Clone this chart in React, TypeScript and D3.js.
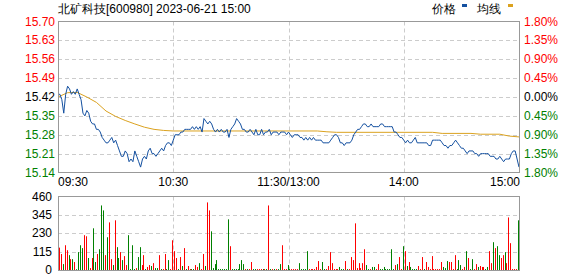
import React from 'react';
import * as d3 from 'd3';

const TITLE = '北矿科技[600980] 2023-06-21 15:00';
const LEGEND = ['价格', '均线'];
const PREV_CLOSE = 15.42;
const priceTicks = [15.7, 15.63, 15.56, 15.49, 15.42, 15.35, 15.28, 15.21, 15.14];
const pctTicks = ['1.80%', '1.35%', '0.90%', '0.45%', '0.00%', '0.45%', '0.90%', '1.35%', '1.80%'];
const volTicks = [460, 345, 230, 115, 0];
const timeLabels = ['09:30', '10:30', '11:30/13:00', '14:00', '15:00'];
const timeLabelMinutes = [0, 60, 120, 180, 240];

// minute 0..120 (09:30-11:30)
const priceAM = [
  15.43, 15.43, 15.41, 15.36, 15.43, 15.46, 15.45, 15.43, 15.44, 15.43,
  15.45, 15.43, 15.41, 15.36, 15.35, 15.37, 15.36, 15.33, 15.32, 15.32,
  15.30, 15.30, 15.29, 15.27, 15.26, 15.25, 15.25, 15.26, 15.27, 15.25,
  15.26, 15.24, 15.22, 15.20, 15.20, 15.22, 15.21, 15.18, 15.19, 15.18,
  15.22, 15.20, 15.18, 15.16, 15.19, 15.20, 15.19, 15.22, 15.23, 15.21,
  15.21, 15.20, 15.21, 15.22, 15.23, 15.22, 15.24, 15.25, 15.25, 15.24,
  15.26, 15.28, 15.28, 15.28, 15.29, 15.29, 15.30, 15.30, 15.30, 15.30,
  15.31, 15.30, 15.31, 15.30, 15.31, 15.29, 15.34, 15.33, 15.32, 15.33,
  15.32, 15.30, 15.29, 15.30, 15.29, 15.30, 15.29, 15.29, 15.30, 15.27,
  15.30, 15.31, 15.32, 15.34, 15.33, 15.32, 15.30, 15.30, 15.29, 15.29,
  15.30, 15.29, 15.28, 15.30, 15.28, 15.28, 15.30, 15.28, 15.29, 15.29,
  15.30, 15.28, 15.29, 15.29, 15.29, 15.28, 15.29, 15.29, 15.29, 15.28,
  15.29,
];
// minute 121..240 (13:01-15:00)
const pricePM = [
  15.28, 15.27, 15.28, 15.28, 15.28, 15.27, 15.27, 15.26, 15.27, 15.26,
  15.27, 15.26, 15.27, 15.26, 15.26, 15.26, 15.26, 15.25, 15.25, 15.25,
  15.25, 15.26, 15.27, 15.28, 15.28, 15.27, 15.25, 15.25, 15.24, 15.25,
  15.25, 15.25, 15.26, 15.28, 15.29, 15.30, 15.30, 15.31, 15.32, 15.32,
  15.31, 15.31, 15.32, 15.31, 15.31, 15.31, 15.31, 15.32, 15.32, 15.31,
  15.31, 15.31, 15.31, 15.31, 15.29, 15.29, 15.28, 15.27, 15.27, 15.26,
  15.25, 15.26, 15.25, 15.25, 15.26, 15.27, 15.25, 15.25, 15.25, 15.25,
  15.25, 15.25, 15.24, 15.24, 15.26, 15.26, 15.26, 15.26, 15.26, 15.25,
  15.24, 15.24, 15.23, 15.24, 15.24, 15.25, 15.26, 15.25, 15.24, 15.23,
  15.23, 15.22, 15.21, 15.22, 15.22, 15.22, 15.21, 15.21, 15.20, 15.21,
  15.21, 15.21, 15.21, 15.21, 15.20, 15.20, 15.20, 15.19, 15.19, 15.20,
  15.19, 15.18, 15.19, 15.19, 15.19, 15.21, 15.22, 15.22, 15.19, 15.16,
];

const avgMinutes = [
  0, 5, 10, 15, 20, 25, 30, 35, 40, 45, 50, 55, 60, 135, 140, 145, 195, 200, 215, 220, 230, 235, 240,
];
const avgValues = [
  15.42, 15.436, 15.437, 15.42, 15.4, 15.368, 15.348, 15.333, 15.32, 15.308, 15.3, 15.296, 15.294,
  15.294, 15.291, 15.289, 15.289, 15.285, 15.285, 15.282, 15.282, 15.275, 15.272,
];

// minute 1..240
const volumes = [
  140, 100, 37, 155, 124, 93, 68, 68, 50, 5,
  112, 155, 137, 218, 211, 75, 12, 75, 261, 50,
  100, 130, 404, 373, 93, 205, 298, 68, 31, 311,
  143, 75, 112, 62, 87, 31, 218, 6, 155, 6,
  12, 81, 143, 31, 93, 6, 19, 31, 25, 43,
  12, 12, 93, 6, 6, 100, 6, 62, 6, 186,
  118, 75, 6, 81, 25, 137, 6, 25, 6, 6,
  6, 31, 19, 43, 6, 100, 25, 423, 373, 242,
  12, 37, 62, 6, 6, 6, 6, 6, 317, 149,
  6, 6, 6, 6, 37, 62, 37, 6, 6, 6,
  50, 6, 6, 6, 6, 6, 6, 6, 6, 404,
  6, 6, 6, 6, 6, 37, 155, 6, 6, 31,
  6, 6, 6, 6, 6, 43, 6, 6, 6, 118,
  6, 6, 6, 6, 19, 56, 6, 50, 6, 6,
  25, 112, 43, 6, 6, 6, 19, 6, 6, 56,
  6, 6, 81, 62, 292, 12, 43, 12, 43, 130,
  31, 6, 6, 19, 19, 6, 37, 6, 6, 19,
  6, 6, 6, 130, 6, 31, 37, 81, 6, 149,
  118, 25, 50, 19, 6, 6, 6, 25, 6, 81,
  6, 50, 19, 6, 87, 6, 6, 6, 6, 50,
  19, 12, 56, 50, 50, 6, 93, 6, 62, 31,
  6, 19, 118, 75, 6, 68, 6, 37, 19, 25,
  19, 19, 6, 19, 118, 43, 174, 137, 149, 93,
  75, 93, 112, 43, 329, 168, 6, 6, 6, 311,
];
// R = up minute, G = down minute
const volumeSides = (
  'RRGRRGRGRG' + 'GGGRRGRRGG' + 'RGGGRGRRGR' + 'GGRGRRGGGG' +
  'RGGRRGRRGR' + 'GGRGRRGGRR' + 'RRGRGRGRRG' + 'GRRGRRGRRG' +
  'GGGGGGGGGR' + 'GGGGGGGRGR' + 'RGGRRRGRGR' + 'GRGRGGRRRG' +
  'GRRRRGGGGG' + 'RRRRRRRGGR' + 'RRRRRRGGGR' + 'GRRRRRRRRR' +
  'GGRGGRRGGG' + 'GGGGGRGRRG' + 'RGRGGGGRRR' + 'GRRRRRRRRR' +
  'GGGRRRRGGG' + 'RRGRGGRRGR' + 'RRGGRRGRGG' + 'RRGRRRRRRG'
).split('');

const W = 578;
const H = 276;
const L = 58;
const R = 519;
const PT = 21.5;
const PB = 172.5;
const VT = 196.5;
const VB = 270.5;
const FONT = 'Liberation Sans, Arial, sans-serif';
const RED = '#ff0000';
const GREEN = '#008000';
const BLUE = '#1450a0';
const GOLD = '#dba21f';
const GRID = '#cccccc';
const BORDER = '#999999';

export default function App() {
  const x = d3.scaleLinear().domain([0, 240]).range([L, R]);
  const yp = d3.scaleLinear().domain([15.14, 15.7]).range([PB, PT]);
  const yv = d3.scaleLinear().domain([0, 460]).range([VB - 0.5, VT]);

  const prices = [...priceAM, ...pricePM];
  const priceLine = d3
    .line<number>()
    .x((_, i) => x(i))
    .y((d) => yp(d))(prices) as string;
  const avgLine = d3
    .line<number>()
    .x((_, i) => x(avgMinutes[i]))
    .y((d) => yp(d))(avgValues) as string;

  const px = (m: number) => Math.round(x(m)) + 0.5;
  const vGridMinutes = [60, 120, 180];

  const priceColor = (t: number) =>
    Math.abs(t - PREV_CLOSE) < 1e-6 ? '#000' : t > PREV_CLOSE ? RED : GREEN;

  return (
    <svg
      width={W}
      height={H}
      style={{ position: 'absolute', left: 0, top: 0, display: 'block', background: '#fff' }}
      fontFamily={FONT}
      fontSize={12}
    >
      <rect x={0} y={0} width={W} height={H} fill="#fff" />
      {/* title + legend */}
      <text x={58} y={13} fill="#000" xmlSpace="preserve">
        {TITLE}
      </text>
      <text x={432} y={13} fill="#000">{LEGEND[0]}</text>
      <rect x={462} y={4} width={5} height={3} fill={BLUE} />
      <text x={477} y={13} fill="#000">{LEGEND[1]}</text>
      <rect x={508} y={4} width={5} height={3} fill={GOLD} />

      {/* price grid */}
      {priceTicks.slice(1, -1).map((t) => (
        <line
          key={'hg' + t}
          x1={L}
          x2={R}
          y1={Math.round(yp(t)) + 0.5}
          y2={Math.round(yp(t)) + 0.5}
          stroke={GRID}
          strokeDasharray="4,3"
        />
      ))}
      {vGridMinutes.map((m) => (
        <line key={'vg' + m} x1={px(m)} x2={px(m)} y1={PT} y2={PB} stroke={GRID} strokeDasharray="4,3" />
      ))}

      {/* lines */}
      <path d={avgLine} fill="none" stroke={GOLD} strokeWidth={1} />
      <path d={priceLine} fill="none" stroke={BLUE} strokeWidth={1} />

      {/* price frame */}
      <rect x={L + 0.5} y={PT} width={R - L} height={PB - PT} fill="none" stroke={BORDER} />

      {/* price labels */}
      {priceTicks.map((t) => (
        <text key={'pl' + t} x={55} y={yp(t) + 4} textAnchor="end" fill={priceColor(t)}>
          {t.toFixed(2)}
        </text>
      ))}
      {pctTicks.map((s, i) => (
        <text
          key={'pr' + i}
          x={524}
          y={yp(priceTicks[i]) + 4}
          fill={i < 4 ? RED : i === 4 ? '#000' : GREEN}
        >
          {s}
        </text>
      ))}

      {/* time labels */}
      {timeLabels.map((s, i) => (
        <text
          key={'tl' + s}
          x={i === 0 ? L : i === timeLabels.length - 1 ? R + 1 : x(timeLabelMinutes[i])}
          y={186}
          textAnchor={i === 0 ? 'start' : i === timeLabels.length - 1 ? 'end' : 'middle'}
          fill="#000"
        >
          {s}
        </text>
      ))}

      {/* volume grid */}
      {volTicks.slice(1, -1).map((v) => (
        <line
          key={'vh' + v}
          x1={L}
          x2={R}
          y1={Math.round(yv(v)) + 0.5}
          y2={Math.round(yv(v)) + 0.5}
          stroke={GRID}
          strokeDasharray="4,3"
        />
      ))}
      {vGridMinutes.map((m) => (
        <line key={'vv' + m} x1={px(m)} x2={px(m)} y1={VT} y2={VB} stroke={GRID} strokeDasharray="4,3" />
      ))}

      {/* volume bars */}
      {volumes.map((v, i) => {
        const m = i + 1;
        const bx = Math.round(x(m)) - 1;
        const top = yv(v);
        return (
          <rect
            key={'vb' + i}
            x={bx}
            y={top}
            width={1}
            height={Math.max(0, VB - 0.5 - top)}
            fill={volumeSides[i] === 'R' ? RED : GREEN}
          />
        );
      })}

      <rect x={L + 0.5} y={VT} width={R - L} height={VB - VT} fill="none" stroke={BORDER} />

      {volTicks.map((v) => (
        <text key={'vl' + v} x={52} y={yv(v) + 4} textAnchor="end" fill="#000">
          {v}
        </text>
      ))}
    </svg>
  );
}
